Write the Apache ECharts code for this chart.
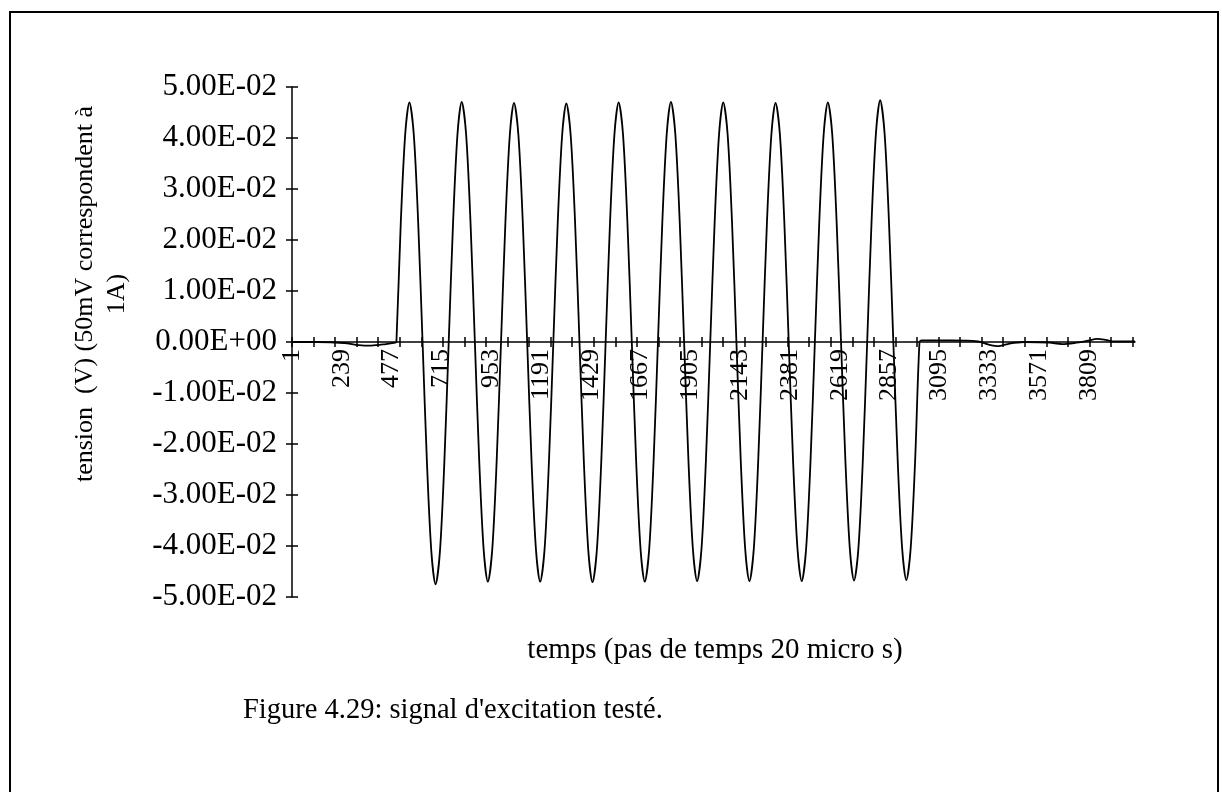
<!DOCTYPE html>
<html>
<head>
<meta charset="utf-8">
<script src="https://cdn.jsdelivr.net/npm/echarts@6/dist/echarts.min.js"></script>
<style>
html,body{margin:0;padding:0;background:#fff;}
#chart{width:1222px;height:792px;}
</style>
</head>
<body>
<div id="chart"></div>
<script>
// ---- data ----
const sampleCount = 4030;                 // number of time steps on the category axis
const yTickLabels = ['-5.00E-02','-4.00E-02','-3.00E-02','-2.00E-02','-1.00E-02','0.00E+00','1.00E-02','2.00E-02','3.00E-02','4.00E-02','5.00E-02'];
const yTickValues = [-0.05,-0.04,-0.03,-0.02,-0.01,0,0.01,0.02,0.03,0.04,0.05];

// baseline before the burst: [sample, value]
const preBurst = [[1,0],[120,0],[250,-0.0002],[320,-0.0006],[380,-0.0007],[450,-0.0004],[495,-0.0001]];

// burst: 10 cycles, each sampled every 1/12 of a period
const cycleStarts  = [500,750,1000,1250,1500,1750,2000,2250,2500,2750];
const phaseOffsets = [0,21,42,62,83,104,125,146,167,187,208,229];
const cycleValues = [
  [0,0.0235,0.0407,0.0470,0.0407,0.0235,0,-0.0237,-0.0411,-0.0475,-0.0411,-0.0237],
  [0,0.0236,0.0408,0.0471,0.0408,0.0236,0,-0.0235,-0.0407,-0.0470,-0.0407,-0.0235],
  [0,0.0235,0.0406,0.0469,0.0406,0.0235,0,-0.0235,-0.0407,-0.0470,-0.0407,-0.0235],
  [0,0.0234,0.0405,0.0468,0.0405,0.0234,0,-0.0236,-0.0408,-0.0471,-0.0408,-0.0236],
  [0,0.0235,0.0407,0.0470,0.0407,0.0235,0,-0.0235,-0.0407,-0.0470,-0.0407,-0.0235],
  [0,0.0236,0.0408,0.0471,0.0408,0.0236,0,-0.0235,-0.0406,-0.0469,-0.0406,-0.0235],
  [0,0.0235,0.0407,0.0470,0.0407,0.0235,0,-0.0235,-0.0406,-0.0469,-0.0406,-0.0235],
  [0,0.0235,0.0406,0.0469,0.0406,0.0235,0,-0.0235,-0.0406,-0.0469,-0.0406,-0.0235],
  [0,0.0235,0.0407,0.0470,0.0407,0.0235,0,-0.0234,-0.0405,-0.0468,-0.0405,-0.0234],
  [0,0.0237,0.0410,0.0474,0.0410,0.0237,0,-0.0234,-0.0404,-0.0467,-0.0404,-0.0234]
];

// baseline after the burst: [sample, value]
const postBurst = [[3000,0],[3010,0.0003],[3150,0.0003],[3280,0.0001],[3330,-0.0005],[3380,-0.0008],[3430,-0.0003],[3500,0],[3620,-0.0001],[3680,-0.0004],[3740,-0.0002],[3800,0.0002],[3850,0.0006],[3890,0.0004],[3930,0.0001],[4030,0.0001]];

// ---- build the series table ----
const categories = [];
for (let i = 1; i <= sampleCount; i++) categories.push(String(i));

const points = [];
preBurst.forEach(p => points.push([p[0]-1, p[1]]));
cycleStarts.forEach((s, c) => {
  phaseOffsets.forEach((o, k) => points.push([s + o - 1, cycleValues[c][k]]));
});
postBurst.forEach(p => points.push([p[0]-1, p[1]]));

const FONT = '"Liberation Serif", "Times New Roman", serif';

const chart = echarts.init(document.getElementById('chart'), null, {renderer: 'canvas'});

const yLabelFmt = v => {
  const i = yTickValues.findIndex(t => Math.abs(t - v) < 1e-9);
  return i >= 0 ? yTickLabels[i] : '';
};

// grid: top 87, height 510 -> value 0 sits 255px above the bottom edge
const ZERO_OFFSET = -255;

chart.setOption({
  animation: false,
  backgroundColor: '#fff',
  grid: {left: 292, right: 87, top: 87, bottom: 195, containLabel: false},
  xAxis: [{
    type: 'category',
    data: categories,
    boundaryGap: false,
    position: 'bottom',
    offset: ZERO_OFFSET,
    axisLine: {onZero: false, lineStyle: {color: '#000', width: 1.5}},
    axisTick: {show: true, interval: 102, length: 5, lineStyle: {color: '#000', width: 1.5}},
    axisLabel: {interval: 237, rotate: 90, margin: 7, color: '#000', fontFamily: FONT, fontSize: 26},
    splitLine: {show: false}
  }, {
    type: 'category',
    data: categories,
    boundaryGap: false,
    position: 'bottom',
    offset: ZERO_OFFSET,
    axisLine: {show: false, onZero: false},
    axisTick: {show: true, inside: true, interval: 102, length: 5, lineStyle: {color: '#000', width: 1.5}},
    axisLabel: {show: false},
    splitLine: {show: false}
  }],
  yAxis: [{
    type: 'value',
    min: -0.05, max: 0.05, interval: 0.01,
    axisLine: {show: true, onZero: false, lineStyle: {color: '#000', width: 1.5}},
    axisTick: {show: true, length: 6, lineStyle: {color: '#000', width: 1.5}},
    axisLabel: {formatter: yLabelFmt, margin: 15, color: '#000', fontFamily: FONT, fontSize: 31},
    splitLine: {show: false}
  }, {
    type: 'value',
    position: 'left',
    min: -0.05, max: 0.05, interval: 0.01,
    axisLine: {show: false, onZero: false},
    axisTick: {show: true, inside: true, length: 6, lineStyle: {color: '#000', width: 1.5}},
    axisLabel: {show: false},
    splitLine: {show: false}
  }],
  series: [{
    type: 'line',
    xAxisIndex: 0, yAxisIndex: 0,
    data: points,
    showSymbol: false,
    smooth: 0.3,
    lineStyle: {color: '#000', width: 1.8},
    z: 3
  }],
  graphic: [
    {type: 'rect', shape: {x: 10, y: 12, width: 1208, height: 800}, style: {fill: 'none', stroke: '#000', lineWidth: 2}, silent: true},
    {type: 'text', x: 101, y: 294, rotation: Math.PI / 2,
      style: {text: 'tension  (V) (50mV correspondent à\n1A)', fontFamily: FONT, fontSize: 26, lineHeight: 32, fill: '#000', align: 'center', verticalAlign: 'middle'}},
    {type: 'text', x: 715, y: 650,
      style: {text: 'temps (pas de temps 20 micro s)', fontFamily: FONT, fontSize: 29, fill: '#000', align: 'center', verticalAlign: 'middle'}},
    {type: 'text', x: 243, y: 711,
      style: {text: "Figure 4.29: signal d'excitation testé.", fontFamily: FONT, fontSize: 28.5, fill: '#000', align: 'left', verticalAlign: 'middle'}}
  ]
});
</script>
</body>
</html>
